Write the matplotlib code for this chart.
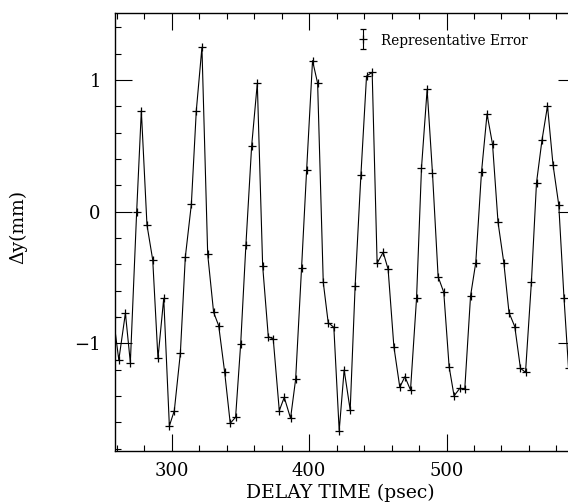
import numpy as np
import matplotlib.pyplot as plt
from matplotlib.ticker import MultipleLocator

# delay time (psec) and displacement (mm)
delay_ps = [
    257.5, 261.5, 266.3, 269.9, 274.5, 277.9, 282.0, 286.2, 290.0, 294.2,
    298.3, 301.9, 306.3, 309.9, 314.3, 317.9, 322.0, 326.2, 330.5, 334.2,
    338.5, 342.6, 346.5, 350.2, 354.0, 358.2, 362.3, 366.2, 370.3, 373.9,
    378.3, 381.9, 386.5, 390.2, 394.5, 398.2, 402.5, 406.2, 410.3, 413.9,
    418.0, 421.9, 425.5, 429.9, 433.5, 437.7, 441.8, 445.9, 449.5, 453.9,
    457.5, 461.7, 466.0, 469.7, 473.8, 478.2, 481.8, 485.9, 489.8, 493.9,
    498.0, 501.9, 505.5, 509.7, 513.3, 517.5, 521.3, 525.5, 529.5, 533.5,
    537.5, 541.7, 545.5, 549.7, 553.8, 557.5, 561.8, 565.5, 569.5, 573.5,
    577.5, 581.7, 585.5, 588.8,
]
dy_mm = [
    -0.80, -1.126, -0.771, -1.146, 0.0, 0.767, -0.101, -0.367, -1.113, -0.658,
    -1.627, -1.511, -1.075, -0.346, 0.056, 0.767, 1.248, -0.324, -0.764, -0.866,
    -1.215, -1.607, -1.561, -1.005, -0.253, 0.501, 0.975, -0.412, -0.949, -0.967,
    -1.511, -1.410, -1.569, -1.273, -0.430, 0.317, 1.147, 0.975, -0.536, -0.843,
    -0.878, -1.663, -1.202, -1.506, -0.564, 0.279, 1.030, 1.058, -0.392, -0.308,
    -0.437, -1.025, -1.333, -1.253, -1.354, -0.658, 0.334, 0.929, 0.291, -0.494,
    -0.612, -1.177, -1.399, -1.341, -1.346, -0.640, -0.387, 0.304, 0.742, 0.512,
    -0.081, -0.387, -0.767, -0.873, -1.189, -1.220, -0.532, 0.220, 0.544, 0.803,
    0.358, 0.051, -0.653, -1.19,
]

# representative error bar (position and half-size)
err_x = 439.3
err_y = 1.309
err_half = 0.076
err_text = "Representative Error"

plt.rcParams['font.family'] = 'DejaVu Serif'

fig = plt.figure(figsize=(5.68, 5.04), dpi=100)
# axes run past the right edge, like the cropped scan
ax = fig.add_axes([0.2019, 0.1058, 0.8099, 0.869])

ax.plot(delay_ps, dy_mm, color='k', lw=0.8, marker='+', ms=5.5, mew=0.9)

ax.errorbar([err_x], [err_y], yerr=err_half, fmt='+', color='k',
            ms=5.5, mew=0.9, elinewidth=0.8, capsize=2.5, capthick=0.8)
ax.text(err_x + 12.7, err_y - 0.01, err_text, fontsize=9.8, va='center', ha='left')

ax.set_xlim(258.5, 593.3)
ax.set_ylim(-1.815, 1.511)

ax.xaxis.set_major_locator(MultipleLocator(100))
ax.xaxis.set_minor_locator(MultipleLocator(20))
ax.yaxis.set_major_locator(MultipleLocator(1))
ax.yaxis.set_minor_locator(MultipleLocator(0.2))

ax.tick_params(which='both', direction='in', top=True, right=True, width=0.8)
ax.tick_params(which='major', length=12.5, labelsize=13, pad=8)
ax.tick_params(which='minor', length=4.3)
ax.tick_params(axis='y', pad=10)

for s in ax.spines.values():
    s.set_linewidth(1.0)

ax.set_xlabel('DELAY TIME (psec)', fontsize=13.5)
ax.set_ylabel('Δy(mm)', fontsize=13.5)
ax.xaxis.set_label_coords(0.49, -0.076)
ax.yaxis.set_label_coords(-0.19, 0.51)

fig.savefig('out.png', dpi=100)
